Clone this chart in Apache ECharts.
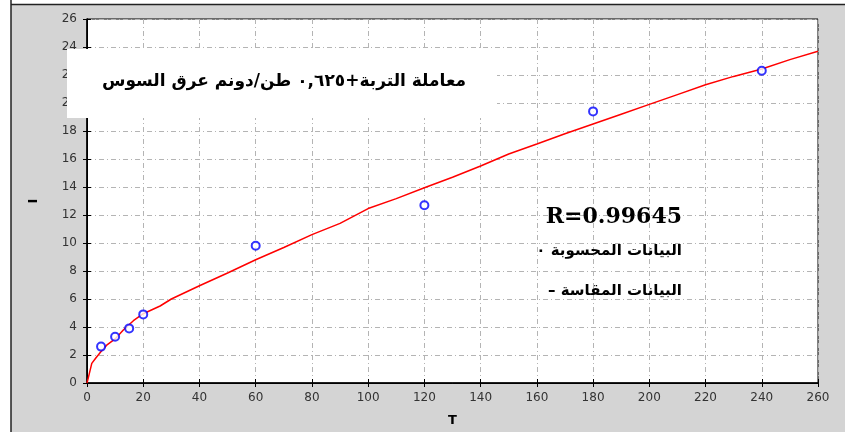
<!DOCTYPE html>
<html>
<head>
<meta charset="utf-8">
<script src="https://cdn.jsdelivr.net/npm/echarts@6/dist/echarts.min.js"></script>
<style>html,body{margin:0;padding:0;background:#fff}#c{width:845px;height:432px}</style>
</head>
<body>
<div id="c"></div>
<script>
// Measured points (T, I)
const measuredT = [5, 10, 15, 20, 60, 120, 180, 240];
const measuredI = [2.6, 3.3, 3.9, 4.9, 9.8, 12.7, 19.4, 22.3];
// Fitted curve (T, I)
const curveT = [0, 0.5, 1.7, 3, 5, 7, 10, 13, 16.5, 20, 26, 30, 40, 50, 60, 70, 80, 90, 100, 110, 120, 130, 140, 150, 160, 170, 180, 190, 200, 210, 220, 230, 240, 250, 260];
const curveI = [0, 0.4, 1.4, 1.75, 2.25, 2.7, 3.15, 3.8, 4.45, 4.95, 5.5, 6.0, 6.95, 7.86, 8.8, 9.68, 10.6, 11.4, 12.46, 13.17, 13.95, 14.7, 15.5, 16.36, 17.07, 17.8, 18.5, 19.2, 19.9, 20.6, 21.3, 21.9, 22.43, 23.1, 23.7];
// Axis ranges
const xRange = {min: 0, max: 260, interval: 20};
const yRange = {min: 0, max: 26, interval: 2};
// Texts
const xName = 'T';
const yName = 'I';
const boxTitle = 'معاملة التربة+٠,٦٢٥ طن/دونم عرق السوس';
const rText = 'R=0.99645';
const calcText = 'البيانات المحسوبة ٠';
const measText = 'البيانات المقاسة –';

// Arabic lines are laid out as right-to-left paragraphs
const RLE = '\u202B', PDF = '\u202C';
const rtl = (s) => RLE + s + PDF;

const chart = echarts.init(document.getElementById('c'), null, {renderer: 'canvas'});
const gridLine = {show: true, lineStyle: {color: '#b4b4b4', width: 1, type: [5, 3, 1, 3]}};
const labelFont = {color: '#333', fontSize: 12, fontFamily: 'DejaVu Sans'};
const mainLine = {show: true, onZero: false, lineStyle: {color: '#000', width: 1.5}};
const tickIn = {show: true, inside: true, length: 4, lineStyle: {color: '#000', width: 1}};

chart.setOption({
  backgroundColor: '#d4d4d4',
  animation: false,
  grid: {left: 87, right: 27, top: 19, bottom: 46, show: true, backgroundColor: '#fff', borderColor: '#000', borderWidth: 1},
  xAxis: [
    {type: 'value', min: xRange.min, max: xRange.max, interval: xRange.interval, position: 'bottom',
     axisLine: mainLine, axisTick: tickIn, splitLine: gridLine,
     axisLabel: Object.assign({margin: 9}, labelFont),
     name: xName, nameLocation: 'middle', nameGap: 31,
     nameTextStyle: {fontSize: 13, fontWeight: 'bold', color: '#000', fontFamily: 'DejaVu Sans'}},
    {type: 'value', min: xRange.min, max: xRange.max, interval: xRange.interval, position: 'top',
     axisLine: {show: true, lineStyle: {color: '#000', width: 1}}, axisTick: tickIn, splitLine: {show: false}, axisLabel: {show: false}}
  ],
  yAxis: [
    {type: 'value', min: yRange.min, max: yRange.max, interval: yRange.interval, position: 'left',
     axisLine: mainLine, axisTick: tickIn, splitLine: gridLine,
     axisLabel: Object.assign({margin: 10}, labelFont),
     name: yName, nameLocation: 'middle', nameGap: 47, nameRotate: 90,
     nameTextStyle: {fontSize: 13, fontWeight: 'bold', color: '#000', fontFamily: 'DejaVu Sans'}},
    {type: 'value', min: yRange.min, max: yRange.max, interval: yRange.interval, position: 'right',
     axisLine: {show: true, lineStyle: {color: '#000', width: 1}}, axisTick: tickIn, splitLine: {show: false}, axisLabel: {show: false}}
  ],
  series: [
    {type: 'line', name: 'fit', xAxisIndex: 0, yAxisIndex: 0, showSymbol: false, symbol: 'none',
     lineStyle: {color: '#ff0000', width: 1.5}, data: curveT.map((t, i) => [t, curveI[i]]), z: 2},
    {type: 'scatter', name: 'measured', xAxisIndex: 0, yAxisIndex: 0, symbol: 'emptyCircle', symbolSize: 8,
     itemStyle: {color: '#0000ff', borderColor: '#0000ff', borderWidth: 1.5},
     data: measuredT.map((t, i) => [t, measuredI[i]]), z: 3}
  ],
  graphic: [
    {type: 'rect', left: 0, top: 0, shape: {width: 11, height: 432}, style: {fill: '#fff'}, z: 100},
    {type: 'rect', left: 0, top: 0, shape: {width: 845, height: 4}, style: {fill: '#fff'}, z: 100},
    {type: 'line', shape: {x1: 11, y1: 0, x2: 11, y2: 432}, style: {stroke: '#222', lineWidth: 1.5}, z: 101},
    {type: 'line', shape: {x1: 11, y1: 4.5, x2: 845, y2: 4.5}, style: {stroke: '#222', lineWidth: 1.5}, z: 101},
    {type: 'rect', shape: {x: 67, y: 49, width: 430, height: 69}, style: {fill: '#fff'}, z: 100},
    {type: 'text', x: 284, y: 82, z: 101,
     style: {text: rtl(boxTitle), fill: '#000', font: 'bold 17px "DejaVu Sans", sans-serif', align: 'center', verticalAlign: 'middle'}},
    {type: 'text', x: 682, y: 217, z: 101,
     style: {text: rText, fill: '#000', font: 'bold 22px "DejaVu Serif", serif', align: 'right', verticalAlign: 'middle'}},
    {type: 'text', x: 682, y: 251, z: 101,
     style: {text: rtl(calcText), fill: '#000', font: 'bold 15px "DejaVu Sans", sans-serif', align: 'right', verticalAlign: 'middle'}},
    {type: 'text', x: 682, y: 291, z: 101,
     style: {text: rtl(measText), fill: '#000', font: 'bold 15px "DejaVu Sans", sans-serif', align: 'right', verticalAlign: 'middle'}}
  ]
});
</script>
</body>
</html>
